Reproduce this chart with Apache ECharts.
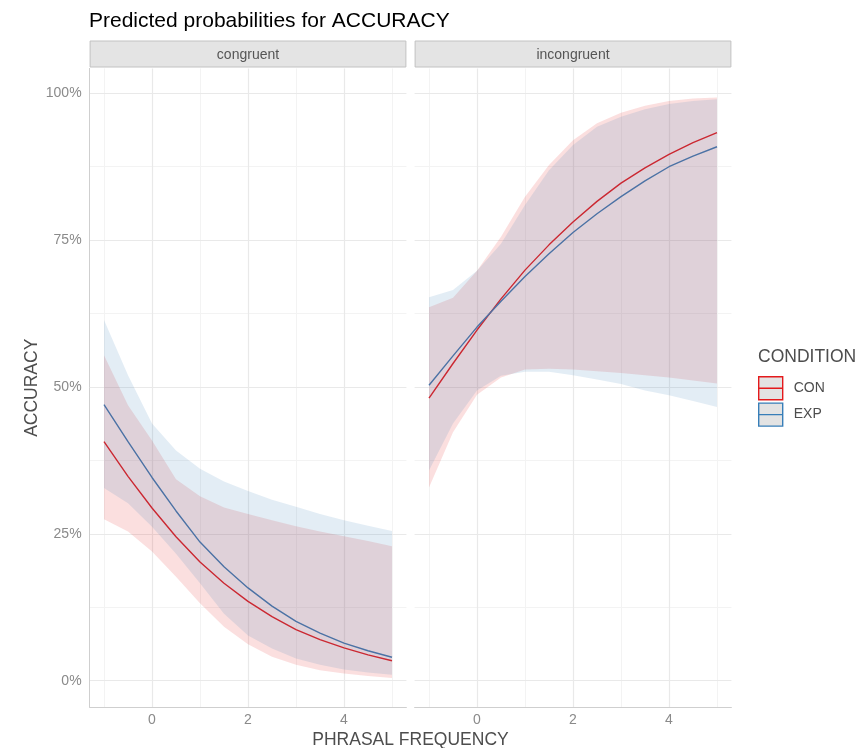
<!DOCTYPE html>
<html>
<head>
<meta charset="utf-8">
<title>Predicted probabilities for ACCURACY</title>
<script src="https://cdn.jsdelivr.net/npm/echarts@6/dist/echarts.min.js"></script>
<style>
  html, body { margin: 0; padding: 0; background: #ffffff; }
  #chart { width: 864px; height: 748px; }
</style>
</head>
<body>
<div id="chart"></div>
<script>
// Phrasal frequency values at which the model was evaluated
const freq = [-1, -0.5, 0, 0.5, 1, 1.5, 2, 2.5, 3, 3.5, 4, 4.5, 5];

// Facets and conditions
const panels = ['congruent', 'incongruent'];
const conditions = ['CON', 'EXP'];

// Predicted accuracy (%) — congruent
const conCongFit  = [40.7, 34.8, 29.4, 24.5, 20.2, 16.6, 13.5, 10.9, 8.7, 7.0, 5.6, 4.4, 3.4];
const conCongLow  = [27.5, 25.4, 22.0, 17.7, 13.2, 9.2, 6.2, 4.1, 2.7, 1.8, 1.25, 0.8, 0.45];
const conCongHigh = [55.4, 46.9, 40.9, 34.3, 31.4, 29.5, 28.4, 27.3, 26.3, 25.4, 24.6, 23.8, 22.9];
const expCongFit  = [47.0, 40.7, 34.6, 28.9, 23.6, 19.4, 15.8, 12.7, 10.1, 8.1, 6.4, 5.1, 4.0];
const expCongLow  = [32.8, 30.2, 26.2, 21.6, 16.6, 11.4, 7.7, 5.5, 3.8, 2.7, 1.9, 1.4, 1.0];
const expCongHigh = [61.4, 52.0, 43.8, 39.2, 36.1, 33.9, 32.3, 30.8, 29.6, 28.4, 27.3, 26.4, 25.5];

// Predicted accuracy (%) — incongruent
const conIncFit  = [48.1, 54.0, 59.7, 65.0, 69.9, 74.2, 78.1, 81.6, 84.7, 87.3, 89.6, 91.6, 93.3];
const conIncLow  = [32.9, 42.3, 48.7, 51.6, 53.0, 53.1, 53.0, 52.7, 52.4, 52.0, 51.6, 51.1, 50.6];
const conIncHigh = [63.6, 65.2, 69.8, 75.6, 82.4, 87.8, 92.0, 94.9, 96.7, 97.9, 98.7, 99.1, 99.3];
const expIncFit  = [50.3, 55.3, 60.2, 64.6, 68.8, 72.7, 76.3, 79.5, 82.4, 85.1, 87.5, 89.3, 90.9];
const expIncLow  = [35.8, 43.8, 49.4, 51.9, 52.6, 52.6, 52.0, 51.3, 50.5, 49.4, 48.6, 47.6, 46.6];
const expIncHigh = [65.3, 66.5, 69.8, 74.4, 81.0, 86.9, 91.2, 94.3, 96.0, 97.3, 98.2, 98.7, 99.0];

// Axis breaks
const xTicks = [0, 2, 4];
const xMinor = [-1, 1, 3, 5];
const yTicks = [0, 25, 50, 75, 100];
const yMinor = [12.5, 37.5, 62.5, 87.5];

// ---- layout & style ----
const FONT = "'Liberation Sans', Arial, Helvetica, sans-serif";
const COLORS = { CON: '#E41A1C', EXP: '#377EB8' };
const FILLS = { CON: 'rgba(228,26,28,0.14)', EXP: 'rgba(55,126,184,0.14)' };
const PANEL_W = 316.8;
const PANEL_LEFT = [89.6, 414.6];
const PANEL_TOP = 68.4;
const PANEL_H = 638.7;
const X_RANGE = [-1.3, 5.3];
const Y_RANGE = [-4.49, 104.24];
const MAJOR_GRID = '#e9e9e9';
const MINOR_GRID = '#f3f3f3';
const AXIS_LINE = '#cfcfcf';

const series_by_panel = [
  { CON: [conCongFit, conCongLow, conCongHigh], EXP: [expCongFit, expCongLow, expCongHigh] },
  { CON: [conIncFit, conIncLow, conIncHigh], EXP: [expIncFit, expIncLow, expIncHigh] }
];

const grids = PANEL_LEFT.map(l => ({ left: l, top: PANEL_TOP, width: PANEL_W, height: PANEL_H, containLabel: false }));

const xAxes = [];
const yAxes = [];
panels.forEach((p, i) => {
  // main axes (index i)
  xAxes.push({
    type: 'value', gridIndex: i, min: X_RANGE[0], max: X_RANGE[1], position: 'bottom',
    axisLine: { show: true, onZero: false, lineStyle: { color: AXIS_LINE, width: 1 } },
    axisTick: { show: false, customValues: xTicks },
    axisLabel: { customValues: xTicks, color: '#8a8a8a', fontSize: 14, fontFamily: FONT, margin: 6 },
    splitLine: { show: true, lineStyle: { color: MAJOR_GRID, width: 1.2 } }
  });
  yAxes.push({
    type: 'value', gridIndex: i, min: Y_RANGE[0], max: Y_RANGE[1], position: 'left',
    axisLine: { show: i === 0, onZero: false, lineStyle: { color: AXIS_LINE, width: 1 } },
    axisTick: { show: false, customValues: yTicks },
    axisLabel: {
      show: i === 0, customValues: yTicks, color: '#8a8a8a', fontSize: 14, fontFamily: FONT, margin: 8,
      formatter: v => v + '%'
    },
    splitLine: { show: true, lineStyle: { color: MAJOR_GRID, width: 1.2 } },
    name: i === 0 ? 'ACCURACY' : '',
    nameLocation: 'middle', nameRotate: 90, nameGap: 48,
    nameTextStyle: { color: '#4d4d4d', fontSize: 17.5, fontFamily: FONT }
  });
});
panels.forEach((p, i) => {
  // minor grid axes (index i + 2)
  xAxes.push({
    type: 'value', gridIndex: i, min: X_RANGE[0], max: X_RANGE[1], position: 'top',
    axisLine: { show: false, onZero: false }, axisLabel: { show: false },
    axisTick: { show: false, customValues: xMinor },
    splitLine: { show: true, lineStyle: { color: MINOR_GRID, width: 1 } }, z: -1
  });
  yAxes.push({
    type: 'value', gridIndex: i, min: Y_RANGE[0], max: Y_RANGE[1], position: 'right',
    axisLine: { show: false, onZero: false }, axisLabel: { show: false },
    axisTick: { show: false, customValues: yMinor },
    splitLine: { show: true, lineStyle: { color: MINOR_GRID, width: 1 } }, z: -1
  });
});

const series = [];
// fitted lines first (drawn beneath the confidence bands)
panels.forEach((p, i) => {
  conditions.forEach(c => {
    const fit = series_by_panel[i][c][0];
    series.push({
      type: 'line', name: c, xAxisIndex: i, yAxisIndex: i,
      data: freq.map((x, k) => [x, fit[k]]),
      showSymbol: false, symbol: 'none', smooth: false, z: 2,
      lineStyle: { color: COLORS[c], width: 1.4 },
      itemStyle: { color: COLORS[c] },
      emphasis: { disabled: true }, silent: true
    });
  });
});
// confidence bands as polygons drawn through the grid's coordinate system
panels.forEach((p, i) => {
  conditions.forEach(c => {
    const [, low, high] = series_by_panel[i][c];
    series.push({
      type: 'custom', name: c, xAxisIndex: i, yAxisIndex: i, z: 3, silent: true,
      data: freq.map((x, k) => [x, low[k], high[k]]),
      encode: { x: 0, y: [1, 2] },
      renderItem: function (params, api) {
        if (params.dataIndex !== 0) return null;
        const pts = [];
        for (let k = 0; k < freq.length; k++) pts.push(api.coord([freq[k], high[k]]));
        for (let k = freq.length - 1; k >= 0; k--) pts.push(api.coord([freq[k], low[k]]));
        return { type: 'polygon', shape: { points: pts }, style: { fill: FILLS[c], stroke: null } };
      }
    });
  });
});

// facet strips
const strips = [];
panels.forEach((p, i) => {
  strips.push({
    type: 'rect', silent: true,
    shape: { x: PANEL_LEFT[i] + 0.5, y: 41, width: PANEL_W - 1, height: 26 },
    style: { fill: '#E4E4E4', stroke: '#C2C2C2', lineWidth: 1 }
  });
  strips.push({
    type: 'text', silent: true,
    style: {
      x: PANEL_LEFT[i] + PANEL_W / 2, y: 55, text: p, align: 'center', verticalAlign: 'middle',
      fill: '#555555', font: '14px ' + FONT
    }
  });
});

const option = {
  backgroundColor: '#ffffff',
  animation: false,
  title: {
    text: 'Predicted probabilities for ACCURACY',
    left: 89, top: 11, padding: 0,
    textStyle: { color: '#000000', fontSize: 21, fontWeight: 'normal', fontFamily: FONT }
  },
  grid: grids,
  xAxis: xAxes,
  yAxis: yAxes,
  legend: {
    orient: 'vertical', left: 758, top: 376, padding: 0,
    itemWidth: 24, itemHeight: 23, itemGap: 2, selectedMode: false,
    textStyle: { color: '#4d4d4d', fontSize: 14, fontFamily: FONT, padding: [0, 0, 0, 6] },
    data: conditions.map(c => ({
      name: c,
      icon: 'path://M0,0L24,0L24,23L0,23Z M0,11.5L24,11.5',
      itemStyle: { color: '#E3E3E3', borderColor: COLORS[c], borderWidth: 1.4 }
    }))
  },
  graphic: strips.concat([
    {
      type: 'text', silent: true,
      style: {
        x: 758, y: 357, text: 'CONDITION', align: 'left', verticalAlign: 'middle',
        fill: '#4d4d4d', font: '17.5px ' + FONT
      }
    },
    {
      type: 'text', silent: true,
      style: {
        x: (PANEL_LEFT[0] + PANEL_LEFT[1] + PANEL_W) / 2, y: 740, text: 'PHRASAL FREQUENCY',
        align: 'center', verticalAlign: 'middle', fill: '#4d4d4d', font: '17.5px ' + FONT
      }
    }
  ]),
  series: series
};

const chart = echarts.init(document.getElementById('chart'), null, { renderer: 'canvas' });
chart.setOption(option);
</script>
</body>
</html>
